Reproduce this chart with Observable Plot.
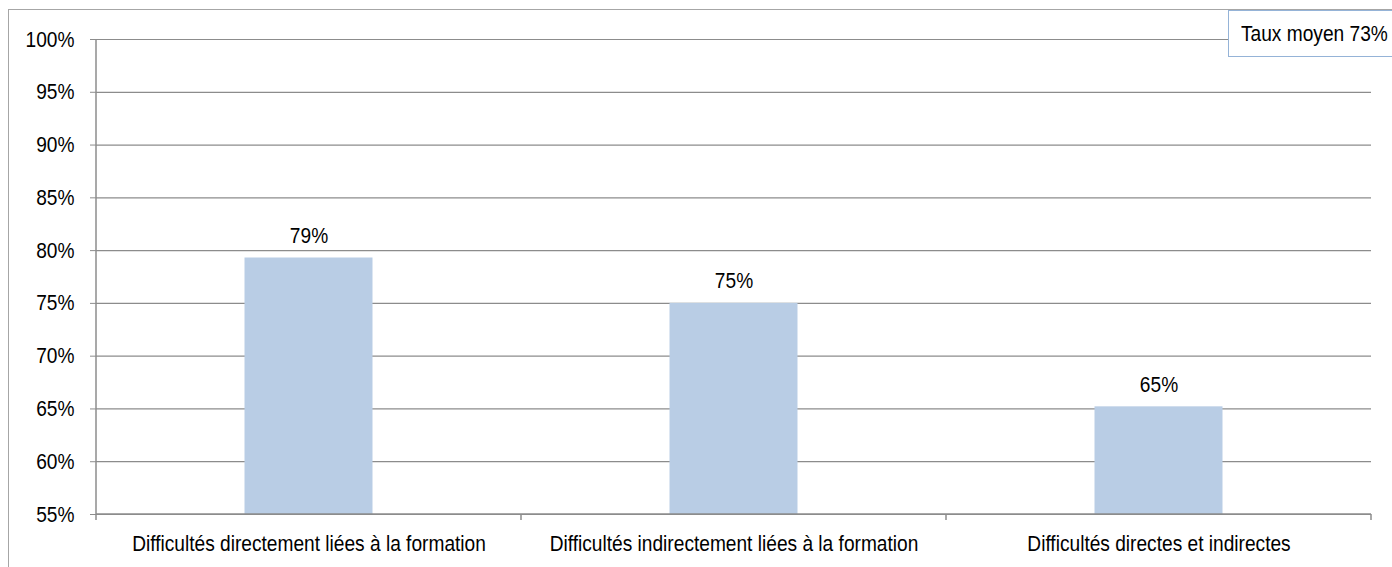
<!DOCTYPE html>
<html><head><meta charset="utf-8">
<script src="https://cdn.jsdelivr.net/npm/d3@7"></script>
<script src="https://cdn.jsdelivr.net/npm/@observablehq/plot@0.6"></script>
<style>
body{margin:0;background:#fff;}
#wrap{position:relative;width:1392px;height:567px;overflow:hidden;font-family:"Liberation Sans",Arial,sans-serif;}
#chart{position:absolute;left:0;top:0}
#frame{position:absolute;left:8px;top:9px;width:1400px;height:600px;border-left:1.5px solid #a6a6a6;border-top:1.5px solid #a6a6a6;pointer-events:none}
#legend{position:absolute;left:1228px;top:10px;width:180px;height:47px;border:1px solid #95b3d7;background:#fff;font-size:22px;line-height:45px;padding-left:12px;box-sizing:border-box;color:#000;white-space:nowrap}
#legend span{display:inline-block;transform:scaleX(0.87);transform-origin:0 50%}
</style></head>
<body>
<div id="wrap"><div id="chart"></div><div id="frame"></div><div id="legend"><span id="legendText"></span></div></div>
<script>
const categories = ["Difficultés directement liées à la formation", "Difficultés indirectement liées à la formation", "Difficultés directes et indirectes"];
const values = [79.3, 75.0, 65.2];
const labels = ["79%", "75%", "65%"];
const yTicks = [55, 60, 65, 70, 75, 80, 85, 90, 95, 100];
const legendText = "Taux moyen 73%";
const yMin = 55;

const data = categories.map((c, i) => ({cat: c, value: values[i], label: labels[i]}));
const FONT = "'Liberation Sans', Arial, sans-serif";
const NARROW = 0.87; // emulate the condensed face of the reference

const plot = Plot.plot({
  width: 1392,
  height: 567,
  marginLeft: 96,
  marginRight: 21,
  marginTop: 39,
  marginBottom: 53,
  style: {background: "transparent", fontFamily: FONT, fontSize: "22px", color: "#000"},
  x: {domain: categories, padding: 0, label: null, tickSize: 0, tickPadding: 21},
  y: {domain: [yMin, 100], ticks: yTicks.length, tickFormat: d => d + "%", tickSize: 6, tickPadding: 16, label: null},
  marks: [
    Plot.ruleY(yTicks, {stroke: "#8c8c8c", strokeWidth: 1.2, strokeOpacity: 1}),
    Plot.barY(data, {x: "cat", y1: yMin, y2: "value", fill: "#b9cde5", insetLeft: 148.5, insetRight: 148.5}),
    Plot.text(data, {x: "cat", y: "value", text: "label", lineAnchor: "bottom", dy: -15, fontSize: 22, fill: "#000"})
  ]
});
document.getElementById("chart").appendChild(plot);
document.getElementById("legendText").textContent = legendText;

// condense every text horizontally around its own anchor
d3.select(plot).selectAll("text").each(function() {
  const t = d3.select(this);
  const x = +(t.attr("x") || 0);
  const tr = t.attr("transform") || "";
  t.attr("transform", `${tr} translate(${x},0) scale(${NARROW},1) translate(${-x},0)`);
});

// axis line and boundary ticks from the scales
const xs = plot.scale("x");
const ysc = plot.scale("y");
const r0 = xs.range[0], r1 = xs.range[1];
const step = (r1 - r0) / categories.length;
const yBottom = ysc.apply(yMin), yTop = ysc.apply(100);
const svg = d3.select(plot);
const g = svg.append("g").attr("stroke", "#8c8c8c").attr("stroke-width", 1.5);
g.append("line").attr("x1", r0).attr("x2", r0).attr("y1", yTop).attr("y2", yBottom);
g.append("line").attr("x1", r0).attr("x2", r1).attr("y1", yBottom).attr("y2", yBottom);
for (let i = 0; i <= categories.length; i++) {
  const x = r0 + i * step;
  g.append("line").attr("x1", x).attr("x2", x).attr("y1", yBottom).attr("y2", yBottom + 6);
}
svg.selectAll("g[aria-label='y-axis tick'] path, g[aria-label='y-axis'] path").attr("stroke", "#8c8c8c");
</script>
</body></html>
